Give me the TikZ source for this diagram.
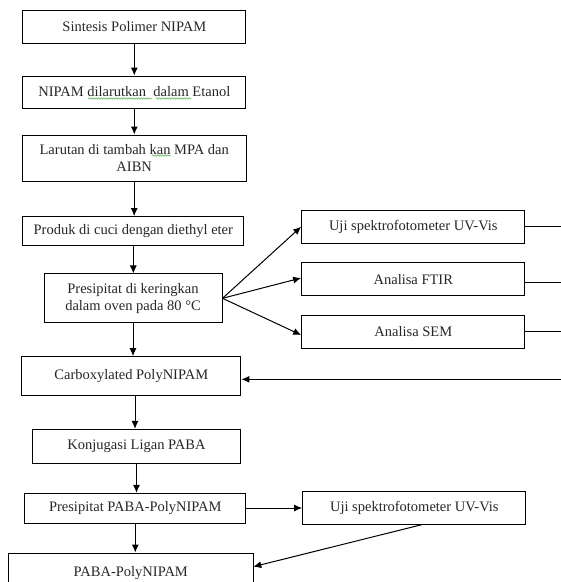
\documentclass[tikz,border=0pt]{standalone}
\usepackage{fontspec}
\setmainfont{Liberation Serif}
\usetikzlibrary{arrows.meta,calc,decorations.pathmorphing}
\begin{document}
\begin{tikzpicture}[x=1pt,y=-1pt,
  box/.style={draw,line width=1pt,inner sep=0pt,align=center,font=\fontsize{14.5}{17}\selectfont,text=black!85},
  arr/.style={line width=1pt,-{Latex[length=8pt,width=7pt]}},
  ln/.style={line width=1pt},
  squig/.style={draw=green!55!black!70,line width=0.5pt,decorate,decoration={snake,amplitude=0.7pt,segment length=2.5pt}}]
\useasboundingbox (0,0) rectangle (561,582);
\begin{scope}
\clip (0,0) rectangle (561,582);
\node[box,minimum width=223.3pt,minimum height=33pt] (b1) at (134.3,26.5) {Sintesis Polimer NIPAM};
\node[box,minimum width=223.3pt,minimum height=32pt] (b2) at (134.3,92) {NIPAM dilarutkan\ \ dalam Etanol};
\node[box,minimum width=223.7pt,minimum height=46pt] (b3) at (134.2,158) {Larutan di tambah kan MPA dan\\AIBN};
\node[box,minimum width=221.3pt,minimum height=29.3pt] (b4) at (133.3,231.3) {Produk di cuci dengan diethyl eter};
\node[box,minimum width=178pt,minimum height=48.7pt] (b5) at (133,298.3) {Presipitat di keringkan\\dalam oven pada 80 °C};
\node[box,minimum width=219.3pt,minimum height=39.3pt] (b6) at (131.3,376.3) {\raisebox{2pt}{Carboxylated PolyNIPAM}};
\node[box,minimum width=208.4pt,minimum height=34pt] (b7) at (136.5,446.3) {Konjugasi Ligan PABA};
\node[box,minimum width=220.7pt,minimum height=30pt] (b8) at (135.3,508.3) {Presipitat PABA-PolyNIPAM};
\node[box,minimum width=245pt,minimum height=45pt,anchor=north] (b9) at (130.8,552.5) {\raisebox{9pt}{PABA-PolyNIPAM}};
\node[box,minimum width=223.3pt,minimum height=33.3pt] (u1) at (413.3,226.7) {Uji spektrofotometer UV-Vis};
\node[box,minimum width=223.3pt,minimum height=33.3pt] (f1) at (413.3,279.3) {Analisa FTIR};
\node[box,minimum width=223.3pt,minimum height=33.3pt] (s1) at (413.3,331.7) {Analisa SEM};
\node[box,minimum width=223.3pt,minimum height=32.6pt] (u2) at (414.3,508) {Uji spektrofotometer UV-Vis};
\coordinate (r1) at (562,226.7);
\coordinate (r2) at (562,282.7);
\coordinate (r3) at (562,331.7);
\coordinate (r4) at (562,379.3);
\coordinate (c6) at (135,396);
\coordinate (e9) at (253.3,566.7);
\coordinate (s2) at (423.3,524.3);
\coordinate (w1) at (88,98.5);
\coordinate (w2) at (152,98.5);
\coordinate (w3) at (156,98.5);
\coordinate (w4) at (191,98.5);
\coordinate (w5) at (152,155.5);
\coordinate (w6) at (171,155.5);
\draw[squig] (w1) -- (w2);
\draw[squig] (w3) -- (w4);
\draw[squig] (w5) -- (w6);
\draw[arr] (b1.south) -- (b1.south |- b2.north);
\draw[arr] (b2.south) -- (b2.south |- b3.north);
\draw[arr] (b3.south) -- (b3.south |- b4.north);
\draw[arr] (b4.south) -- (b4.south |- b5.north);
\draw[arr] (b5.south) -- (b5.south |- b6.north);
\draw[arr] (c6) -- (c6 |- b7.north);
\draw[arr] (b7.south) -- (b7.south |- b8.north);
\draw[arr] (b8.south) -- (b8.south |- b9.north);
\draw[arr] (b5.east) -- (u1.west);
\draw[arr] (b5.east) -- ($(f1.west)+(0,-1.3)$);
\draw[arr] (b5.east) -- ($(s1.west)+(0,3.3)$);
\draw[ln] (u1.east) -- (r1);
\draw[ln] (f1.east |- r2) -- (r2);
\draw[ln] (s1.east) -- (r3);
\draw[arr] (r4) -- (r4 -| b6.east);
\draw[arr] (b8.east |- u2.west) -- (u2.west);
\draw[arr] (s2) -- (e9);
\end{scope}
\end{tikzpicture}
\end{document}
